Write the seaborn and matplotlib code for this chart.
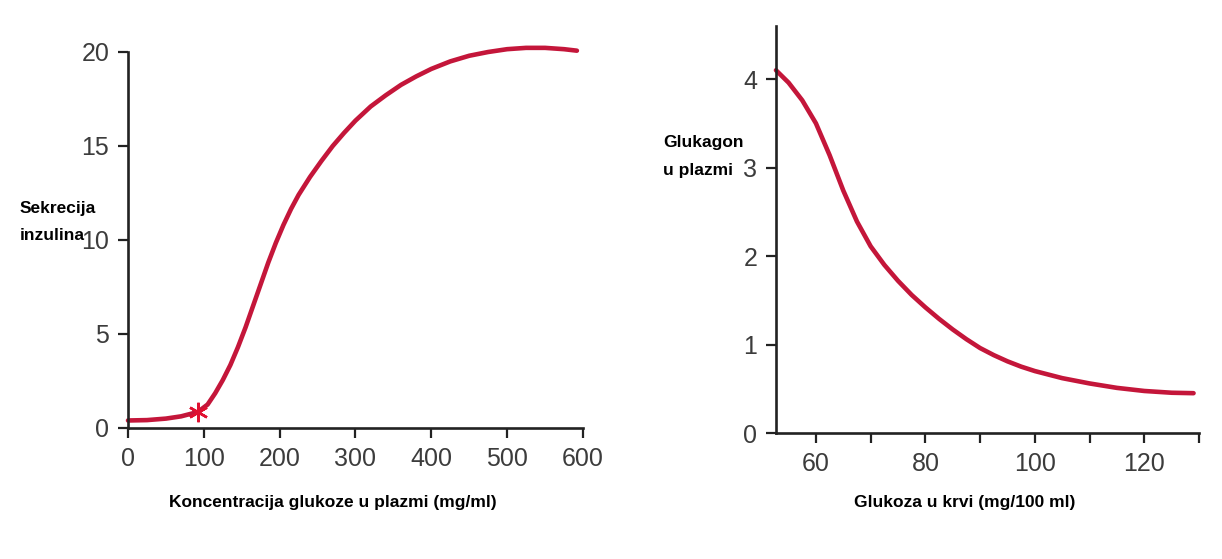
import numpy as np
import pandas as pd
import seaborn as sns
import matplotlib
matplotlib.use("Agg")
import matplotlib.pyplot as plt
from matplotlib import font_manager

# -------------------------------------------------
# Podaci (ocitano sa slike)
# -------------------------------------------------
glukoza_plazma = [0, 25, 50, 70, 92, 105, 115, 125, 135, 145, 155, 165, 175, 185,
                  195, 205, 215, 225, 240, 255, 270, 285, 300, 320, 340, 360,
                  380, 400, 425, 450, 475, 500, 525, 550, 575, 592]
sekrecija_inzulina = [0.40, 0.42, 0.50, 0.62, 0.85, 1.25, 1.85, 2.55, 3.35, 4.3,
                      5.35, 6.5, 7.65, 8.8, 9.85, 10.8, 11.65, 12.4, 13.35, 14.2,
                      15.0, 15.7, 16.35, 17.1, 17.7, 18.25, 18.7, 19.1, 19.5, 19.8,
                      20.0, 20.15, 20.22, 20.22, 20.15, 20.07]
zvjezdica_x = [92]
zvjezdica_y = [0.85]

glukoza_krv = [52.7, 55, 57.5, 60, 62.5, 65, 67.5, 70, 72.5, 75, 77.5, 80, 82.5,
               85, 87.5, 90, 92.5, 95, 97.5, 100, 105, 110, 115, 120, 125, 129]
glukagon = [4.10, 3.96, 3.76, 3.50, 3.14, 2.74, 2.39, 2.11, 1.90, 1.72, 1.56,
            1.42, 1.29, 1.17, 1.06, 0.96, 0.88, 0.81, 0.75, 0.70, 0.62, 0.56,
            0.51, 0.475, 0.455, 0.45]

x1_ticks = [0, 100, 200, 300, 400, 500, 600]
y1_ticks = [0, 5, 10, 15, 20]
x2_ticks = [60, 70, 80, 90, 100, 110, 120, 130]
x2_labels = ["60", "", "80", "", "100", "", "120", ""]
y2_ticks = [0, 1, 2, 3, 4]

# -------------------------------------------------
# Stil
# -------------------------------------------------
sns.set_style("ticks")
names = {f.name for f in font_manager.fontManager.ttflist}
tick_font = "Liberation Sans Narrow" if "Liberation Sans Narrow" in names else "Liberation Sans"
plt.rcParams["font.family"] = ["Liberation Sans", "DejaVu Sans"]

crvena = "#c4163a"
osa = "#222222"
tekst_tick = "#3c3c3c"
vel_natpisa = 12.5


def uredi_osu(ax):
    for s in ["top", "right"]:
        ax.spines[s].set_visible(False)
    for s in ["left", "bottom"]:
        ax.spines[s].set_linewidth(1.9)
        ax.spines[s].set_color(osa)
    ax.tick_params(axis="both", direction="out", length=7.5, width=1.6,
                   color=osa, labelcolor=tekst_tick, pad=6)
    for lab in ax.get_xticklabels() + ax.get_yticklabels():
        lab.set_fontfamily(tick_font)
        lab.set_fontsize(18)
    ax.set_xlabel("")
    ax.set_ylabel("")


def natpis(x_px, y_px, tekst, ha="left"):
    fig.text(x_px / 1222, 1 - y_px / 559, tekst, fontsize=vel_natpisa,
             fontweight="bold", color="black", va="center", ha=ha)


fig = plt.figure(figsize=(12.22, 5.59), dpi=100)
fig.patch.set_facecolor("white")

# -------------------------------------------------
# Lijevi graf: inzulin
# -------------------------------------------------
ax1 = fig.add_axes([0.10475, 0.23435, 0.3723, 0.67263])
df1 = pd.DataFrame({"x": glukoza_plazma, "y": sekrecija_inzulina})
sns.lineplot(data=df1, x="x", y="y", ax=ax1, color=crvena, linewidth=3.3,
             clip_on=False)
ax1.plot(zvjezdica_x, zvjezdica_y, marker=(6, 2, 0), markersize=14,
         color="#e01030", markeredgewidth=1.8, linestyle="none", zorder=5)
ax1.set_xlim(0, 600)
ax1.set_ylim(0, 20)
ax1.set_xticks(x1_ticks)
ax1.set_yticks(y1_ticks)
uredi_osu(ax1)

natpis(20, 209, "Sekrecija")
natpis(20, 236, "inzulina")
natpis(333, 503, "Koncentracija glukoze u plazmi (mg/ml)", ha="center")

# -------------------------------------------------
# Desni graf: glukagon
# -------------------------------------------------
ax2 = fig.add_axes([0.635, 0.2254, 0.3462, 0.7281])
df2 = pd.DataFrame({"x": glukoza_krv, "y": glukagon})
sns.lineplot(data=df2, x="x", y="y", ax=ax2, color=crvena, linewidth=3.3,
             clip_on=False)
ax2.set_xlim(52.7, 130)
ax2.set_ylim(0, 4.6)
ax2.set_xticks(x2_ticks)
ax2.set_xticklabels(x2_labels)
ax2.set_yticks(y2_ticks)
uredi_osu(ax2)

natpis(663, 143, "Glukagon")
natpis(663, 171, "u plazmi")
natpis(965, 502, "Glukoza u krvi (mg/100 ml)", ha="center")

fig.savefig("out.png", dpi=100, facecolor="white")
